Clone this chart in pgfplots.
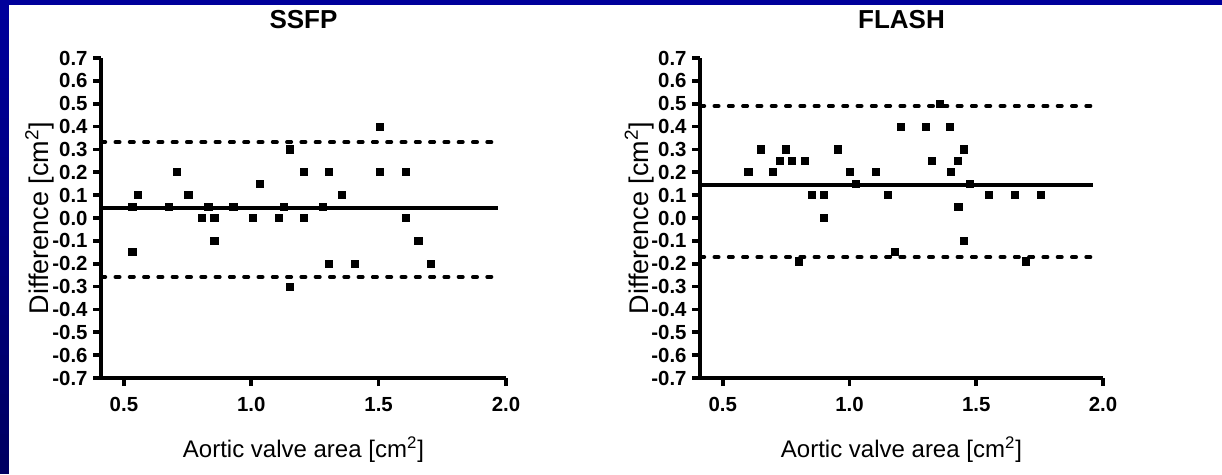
\documentclass[border=0pt]{standalone}
\usepackage{fontspec}
\setmainfont{Liberation Sans}
\usepackage{pgfplots}
\pgfplotsset{compat=1.18}
\usepackage{pgfplotstable}

\definecolor{navytop}{RGB}{0,0,155}
\definecolor{navybot}{RGB}{0,0,98}

% Bland-Altman data: aortic valve area vs difference
\pgfplotstableread{
x y
0.533 -0.15
0.533 0.05
0.556 0.10
0.678 0.05
0.707 0.20
0.753 0.10
0.806 0.00
0.832 0.05
0.855 0.00
0.855 -0.10
0.930 0.05
1.005 0.00
1.033 0.15
1.108 0.00
1.127 0.05
1.153 0.30
1.153 -0.30
1.206 0.20
1.206 0.00
1.282 0.05
1.304 0.20
1.304 -0.20
1.357 0.10
1.407 -0.20
1.505 0.40
1.505 0.20
1.606 0.20
1.606 0.00
1.656 -0.10
1.705 -0.20
}\ssfp

\pgfplotstableread{
x y
0.601 0.20
0.649 0.30
0.699 0.20
0.725 0.25
0.749 0.30
0.774 0.25
0.800 -0.19
0.824 0.25
0.850 0.10
0.900 0.10
0.900 0.00
0.953 0.30
1.000 0.20
1.026 0.15
1.103 0.20
1.150 0.10
1.178 -0.15
1.204 0.40
1.300 0.40
1.325 0.25
1.355 0.50
1.397 0.40
1.400 0.20
1.428 0.25
1.429 0.05
1.450 0.30
1.450 -0.10
1.474 0.15
1.550 0.10
1.651 0.10
1.697 -0.19
1.754 0.10
}\flash

\pgfplotsset{
  ba/.style={
    scale only axis, height=160bp,
    xmin=0.41, xmax=2.0, ymin=-0.7, ymax=0.7,
    axis lines=left,
    x axis line style={-}, y axis line style={-},
    axis line style={line width=1.8bp},
    xtick={0.5,1.0,1.5,2.0},
    ytick={-0.7,-0.6,-0.5,-0.4,-0.3,-0.2,-0.1,0,0.1,0.2,0.3,0.4,0.5,0.6,0.7},
    tick align=outside, major tick length=4bp,
    tick style={line width=1.8bp, black},
    /pgf/number format/fixed, /pgf/number format/fixed zerofill,
    /pgf/number format/precision=1, /pgf/number format/assume math mode=true,
    tick label style={font=\fontsize{10.2bp}{11bp}\selectfont\bfseries},
    yticklabel style={xshift=0.8bp},
    xticklabel style={yshift=-2bp},
    xlabel={Aortic valve area [cm\textsuperscript{2}]},
    ylabel={Difference [cm\textsuperscript{2}]},
    xlabel style={at={(axis description cs:0.5,-0.247)}, anchor=base,
      font=\fontsize{12bp}{14bp}\selectfont},
    ylabel style={at={(axis description cs:-0.151,0.5)}, anchor=center,
      font=\fontsize{13.5bp}{15bp}\selectfont},
    title style={at={(axis description cs:0.5,1.084)}, anchor=center,
      font=\fontsize{13bp}{15bp}\selectfont\bfseries},
    clip=false,
  },
  pts/.style={only marks, mark=square*, mark size=1.8bp, black},
  mean/.style={black, line width=1.9bp, no marks},
  loa/.style={black, line width=1.8bp, no marks, line cap=round,
    dash pattern=on 2.2bp off 4.95bp},
}

\begin{document}
\begin{tikzpicture}[x=1bp,y=1bp]
\fill[white] (-2,-2) rectangle (613,237);
\fill[navytop] (0,234.5) rectangle (613,239);
% left strip, darkening downwards
\foreach \i in {0,...,23} {
  \pgfmathsetmacro\p{100-\i*100/23}
  \fill[navytop!\p!navybot] (-2,{237-(\i+1)*237/24}) rectangle (4.5,{237-\i*237/24+0.3});
}

\begin{axis}[ba, width=202.5bp, at={(50.5bp,48bp)}, anchor=south west, title={SSFP}]
  \addplot[loa] coordinates {(0.41,0.332) (1.97,0.332)};
  \addplot[loa] coordinates {(0.41,-0.258) (1.97,-0.258)};
  \addplot[mean] coordinates {(0.41,0.045) (1.97,0.045)};
  \addplot[pts] table[x=x, y=y] {\ssfp};
\end{axis}

\begin{axis}[ba, width=201.5bp, at={(350bp,48bp)}, anchor=south west, title={FLASH}]
  \addplot[loa] coordinates {(0.41,0.49) (1.96,0.49)};
  \addplot[loa] coordinates {(0.41,-0.171) (1.96,-0.171)};
  \addplot[mean] coordinates {(0.41,0.146) (1.96,0.146)};
  \addplot[pts] table[x=x, y=y] {\flash};
\end{axis}

\pgfresetboundingbox
\path[use as bounding box] (0,0) rectangle (611,237);
\end{tikzpicture}
\end{document}
